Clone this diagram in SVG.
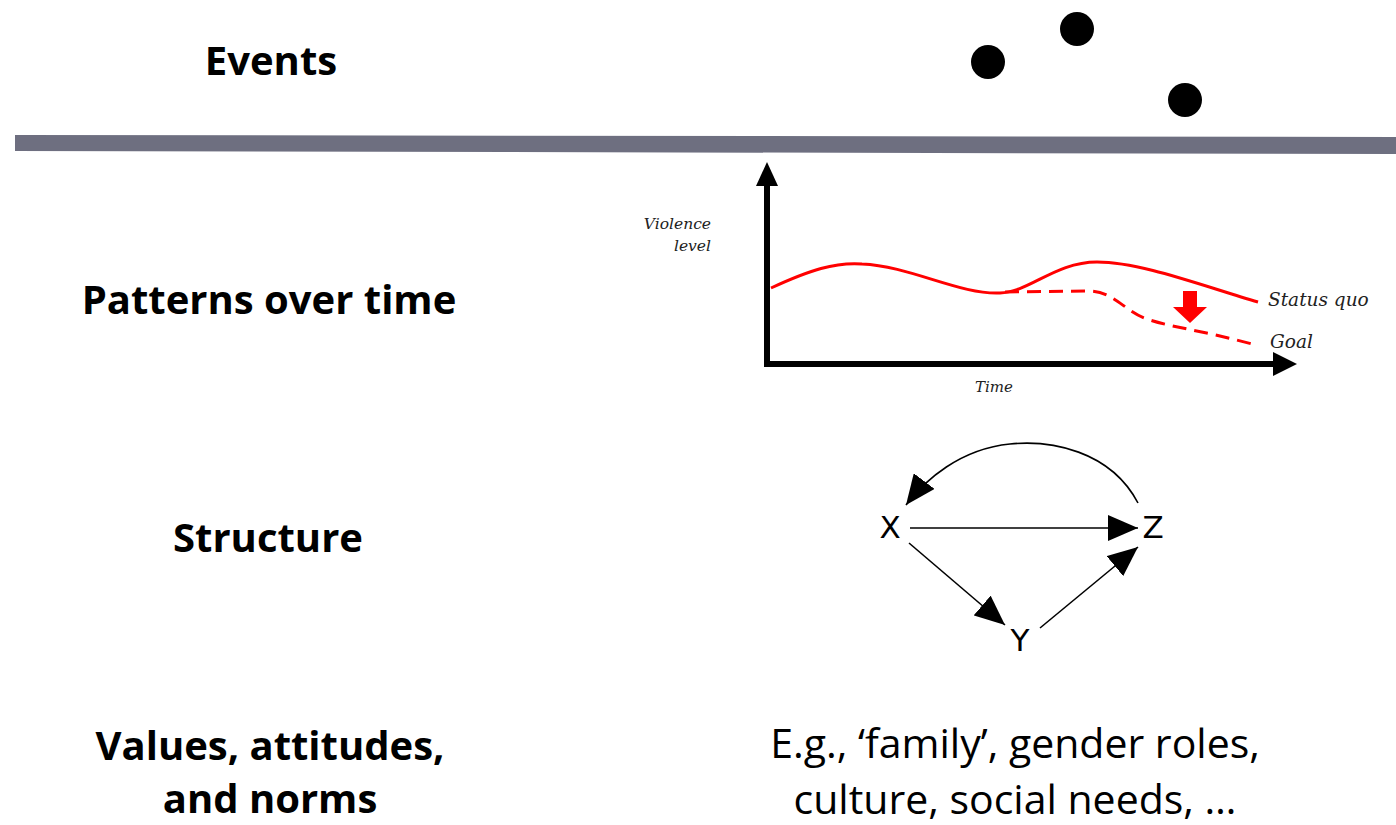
<svg xmlns="http://www.w3.org/2000/svg" width="1396" height="825" viewBox="0 0 1396 825">
<style>
.lbl{font-family:"Open Sans","Liberation Sans",sans-serif;font-weight:bold;font-size:40px;fill:#000;text-anchor:middle}
.txt{font-family:"Open Sans","Liberation Sans",sans-serif;font-size:41px;fill:#000;text-anchor:middle}
.ch{font-family:"DejaVu Serif",serif;font-style:italic;fill:#222}
.node{font-family:"DejaVu Sans",sans-serif;font-size:31px;fill:#000;text-anchor:middle}
.edge{stroke:#000;stroke-width:1.6;fill:none}
</style>
<defs>
<marker id="ahb" viewBox="0 0 30 26" refX="30" refY="13" markerWidth="30" markerHeight="26" orient="auto" markerUnits="userSpaceOnUse">
<path d="M0,0 L30,13 L0,26 Z" fill="#000"/>
</marker>
</defs>
<rect width="1396" height="825" fill="#fff"/>
<g id="divider"><polygon points="15,135 1396,137 1396,154 15,151" fill="#6e6f80"/></g>

<g id="labels">
<text class="lbl" x="271" y="75">Events</text>
<text class="lbl" x="269" y="314">Patterns over time</text>
<text class="lbl" x="268" y="552">Structure</text>
<text class="lbl" x="270" y="760">Values, attitudes,</text>
<text class="lbl" x="270" y="813">and norms</text>
</g>

<g id="events">
<circle cx="988" cy="62" r="17" fill="#000"/>
<circle cx="1077" cy="29" r="17" fill="#000"/>
<circle cx="1185" cy="100" r="17" fill="#000"/>
</g>

<g id="chart">
<path d="M767,364 L767,183" stroke="#000" stroke-width="6" fill="none"/>
<polygon points="767,162 756,186 778,186" fill="#000"/>
<path d="M764,364 L1276,364" stroke="#000" stroke-width="6" fill="none"/>
<polygon points="1297,364 1273,352 1273,376" fill="#000"/>
<path d="M771,288 C810,270 835,262 862,264 C910,266 960,295 1000,293 C1030,292 1055,262 1097,262 C1140,262 1200,285 1258,302" stroke="#f00" stroke-width="3" fill="none"/>
<path d="M1005,292 L1088,291 C1115,291 1125,313 1150,320 C1175,328 1200,330 1252,344" stroke="#f00" stroke-width="3" fill="none" stroke-dasharray="14,8"/>
<polygon points="1183,291 1197,291 1197,307 1207,307 1190,323 1173,307 1183,307" fill="#f00"/>
<text class="ch" x="711" y="229" font-size="15.5" text-anchor="end">Violence</text>
<text class="ch" x="711" y="251" font-size="15.5" text-anchor="end">level</text>
<text class="ch" x="994" y="392" font-size="15" text-anchor="middle">Time</text>
<text class="ch" x="1268" y="306" font-size="18.5">Status quo</text>
<text class="ch" x="1270" y="348" font-size="18.5">Goal</text>
</g>

<g id="node-X"><text class="node" x="890" y="538">X</text></g>
<g id="node-Z"><text class="node" x="1153" y="538">Z</text></g>
<g id="node-Y"><text class="node" x="1020" y="651">Y</text></g>

<g id="connectors">
<path class="edge" d="M1138,503 C1110,450 1050,440 1010,444 C960,449 925,480 906,505" marker-end="url(#ahb)"/>
<path class="edge" d="M910,528 L1138,528" marker-end="url(#ahb)"/>
<path class="edge" d="M909,543 L1005,625" marker-end="url(#ahb)"/>
<path class="edge" d="M1040,628 L1138,547" marker-end="url(#ahb)"/>
</g>

<g id="example">
<text class="txt" x="1015" y="758">E.g., ‘family’, gender roles,</text>
<text class="txt" x="1015" y="814">culture, social needs, …</text>
</g>
</svg>
